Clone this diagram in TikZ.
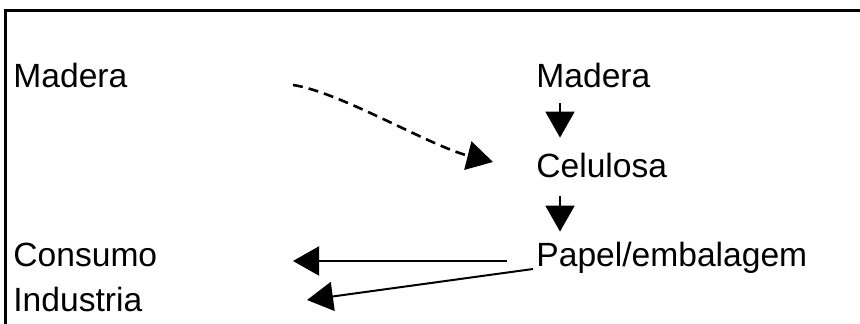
\documentclass[tikz,border=0pt]{standalone}
\usepackage{fontspec}
\setmainfont{Liberation Sans}
\usetikzlibrary{arrows.meta}

\begin{document}
\begin{tikzpicture}[x=0.5pt, y=-0.5pt,
		word/.style={anchor=base west, inner sep=0pt, text height=12pt, text depth=0pt,
			font=\fontsize{16.8}{19}\selectfont},
		flow/.style={line width=1pt, -{Triangle[length=13pt, width=14.5pt]}},
		hint/.style={flow, line width=1.3pt, dash pattern=on 5pt off 3pt}]
		\useasboundingbox (0,0) rectangle (860,324);
		\draw[line width=1.5pt] (5,340) -- (5,10.5) -- (880,10.5);
		
		\node[word] (wood left)  at (13,88)   {Madera};
		\node[word] (wood)       at (536,88)  {Madera};
		\node[word] (pulp)       at (536,178) {Celulosa};
		\node[word] (paper)      at (536,267) {Papel/embalagem};
		\node[word] (use)        at (13,267)  {Consumo};
		\node[word] (industry)   at (13,312)  {Industria};
		
		\draw[flow] ([shift={(24,15)}]wood.south west) -- ([shift={(24,-16)}]pulp.north west);
		\draw[flow] ([shift={(24,18)}]pulp.south west) -- ([shift={(24,-11)}]paper.north west);
		\draw[flow] ([shift={(-29,-6)}]paper.base west) -- ([shift={(280,-6)}]use.base west);
		\draw[flow] ([shift={(-3,2)}]paper.base west) -- ([shift={(294,-12)}]industry.base west);
		\draw[hint] ([shift={(280,-3)}]wood left.base west)
			.. controls (340,92) and (430,146) .. ([shift={(-43,-16)}]pulp.base west);
	\end{tikzpicture}
\end{document}
